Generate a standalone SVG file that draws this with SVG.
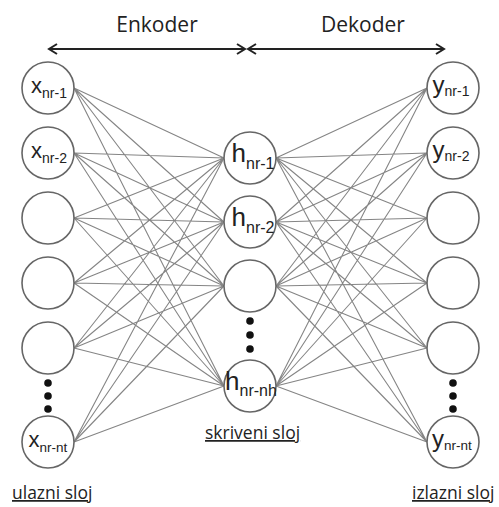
<svg xmlns="http://www.w3.org/2000/svg" width="499" height="507" viewBox="0 0 499 507">
  <defs>
    <marker id="chev" viewBox="-10 -7 12 14" markerWidth="12" markerHeight="14" refX="0" refY="0" orient="auto-start-reverse" markerUnits="userSpaceOnUse">
      <path d="M-8,-5 L0,0 L-8,5" fill="none" stroke="#222" stroke-width="2"/>
    </marker>
  </defs>
  <style>
    .node { fill: #fff; stroke: #666; stroke-width: 1.6; }
    .edge { stroke: #858585; stroke-width: 1.1; fill: none; }
    .dot { fill: #111; }
    .span { stroke: #222; stroke-width: 2; fill: none; }
    .head { font-family: "Open Sans", "Liberation Sans", sans-serif; font-size: 21px; fill: #222; text-anchor: middle; }
    .layer { font-family: "Open Sans", "Liberation Sans", sans-serif; font-size: 17.5px; fill: #222; text-decoration: underline; }
    .lbl { font-family: "Liberation Sans", Arial, sans-serif; fill: #222; text-anchor: middle; }
  </style>
  <rect width="499" height="507" fill="#fff"/>

  <!-- encoder / decoder spans -->
  <g id="spans">
    <line class="span" x1="49" y1="49" x2="245" y2="49" marker-start="url(#chev)" marker-end="url(#chev)"/>
    <line class="span" x1="248" y1="49" x2="444" y2="49" marker-start="url(#chev)" marker-end="url(#chev)"/>
    <text class="head" x="157" y="32">Enkoder</text>
    <text class="head" x="363" y="32">Dekoder</text>
  </g>

  <!-- connectors: input layer to hidden layer, hidden layer to output layer -->
  <g id="connectors">
    <!-- input rows 88,153,218,283,348,442 -> hidden rows 158,222,286,386 -->
    <path class="edge" d="M74,88 L224,158 M74,88 L224,222 M74,88 L224,286 M74,88 L224,386
      M74,153 L224,158 M74,153 L224,222 M74,153 L224,286 M74,153 L224,386
      M74,218 L224,158 M74,218 L224,222 M74,218 L224,286 M74,218 L224,386
      M74,283 L224,158 M74,283 L224,222 M74,283 L224,286 M74,283 L224,386
      M74,348 L224,158 M74,348 L224,222 M74,348 L224,286 M74,348 L224,386
      M74,442 L224,158 M74,442 L224,222 M74,442 L224,286 M74,442 L224,386"/>
    <path class="edge" d="M276,158 L427,88 M276,158 L427,153 M276,158 L427,218 M276,158 L427,283 M276,158 L427,348 M276,158 L427,442
      M276,222 L427,88 M276,222 L427,153 M276,222 L427,218 M276,222 L427,283 M276,222 L427,348 M276,222 L427,442
      M276,286 L427,88 M276,286 L427,153 M276,286 L427,218 M276,286 L427,283 M276,286 L427,348 M276,286 L427,442
      M276,386 L427,88 M276,386 L427,153 M276,386 L427,218 M276,386 L427,283 M276,386 L427,348 M276,386 L427,442"/>
  </g>

  <!-- input layer -->
  <g id="x1"><circle class="node" cx="48" cy="88" r="26"/><text class="lbl" x="49" y="93"><tspan font-size="22">x</tspan><tspan font-size="14" dy="5">nr-1</tspan></text></g>
  <g id="x2"><circle class="node" cx="48" cy="153" r="26"/><text class="lbl" x="49" y="158"><tspan font-size="22">x</tspan><tspan font-size="14" dy="5">nr-2</tspan></text></g>
  <g id="x3"><circle class="node" cx="48" cy="218" r="26"/></g>
  <g id="x4"><circle class="node" cx="48" cy="283" r="26"/></g>
  <g id="x5"><circle class="node" cx="48" cy="348" r="26"/></g>
  <g id="xdots"><circle class="dot" cx="48" cy="383" r="3.8"/><circle class="dot" cx="48" cy="396" r="3.8"/><circle class="dot" cx="48" cy="409" r="3.8"/></g>
  <g id="xnt"><circle class="node" cx="48" cy="442" r="26"/><text class="lbl" x="48" y="447"><tspan font-size="22">x</tspan><tspan font-size="13.5" dy="5">nr-nt</tspan></text></g>

  <!-- hidden layer -->
  <g id="h1"><circle class="node" cx="250" cy="158" r="26"/><text class="lbl" x="253" y="162"><tspan font-size="26">h</tspan><tspan font-size="16" dy="7">nr-1</tspan></text></g>
  <g id="h2"><circle class="node" cx="250" cy="222" r="26"/><text class="lbl" x="253" y="226"><tspan font-size="26">h</tspan><tspan font-size="16" dy="7">nr-2</tspan></text></g>
  <g id="h3"><circle class="node" cx="250" cy="286" r="26"/></g>
  <g id="hdots"><circle class="dot" cx="250" cy="321" r="3.8"/><circle class="dot" cx="250" cy="335" r="3.8"/><circle class="dot" cx="250" cy="349" r="3.8"/></g>
  <g id="hnh"><circle class="node" cx="250" cy="386" r="26"/><text class="lbl" x="251" y="390"><tspan font-size="26">h</tspan><tspan font-size="16" dy="6">nr-nh</tspan></text></g>

  <!-- output layer -->
  <g id="y1"><circle class="node" cx="453" cy="88" r="26"/><text class="lbl" x="451" y="93"><tspan font-size="24">y</tspan><tspan font-size="14" dy="3">nr-1</tspan></text></g>
  <g id="y2"><circle class="node" cx="453" cy="153" r="26"/><text class="lbl" x="451" y="158"><tspan font-size="24">y</tspan><tspan font-size="14" dy="3">nr-2</tspan></text></g>
  <g id="y3"><circle class="node" cx="453" cy="218" r="26"/></g>
  <g id="y4"><circle class="node" cx="453" cy="283" r="26"/></g>
  <g id="y5"><circle class="node" cx="453" cy="348" r="26"/></g>
  <g id="ydots"><circle class="dot" cx="453" cy="383" r="3.8"/><circle class="dot" cx="453" cy="396" r="3.8"/><circle class="dot" cx="453" cy="409" r="3.8"/></g>
  <g id="ynt"><circle class="node" cx="453" cy="442" r="26"/><text class="lbl" x="452" y="447"><tspan font-size="24">y</tspan><tspan font-size="13.5" dy="3">nr-nt</tspan></text></g>

  <!-- layer names -->
  <g id="layer-names">
    <text class="layer" x="12" y="499">ulazni sloj</text>
    <text class="layer" x="205" y="439">skriveni sloj</text>
    <text class="layer" x="412" y="499">izlazni sloj</text>
  </g>
</svg>
